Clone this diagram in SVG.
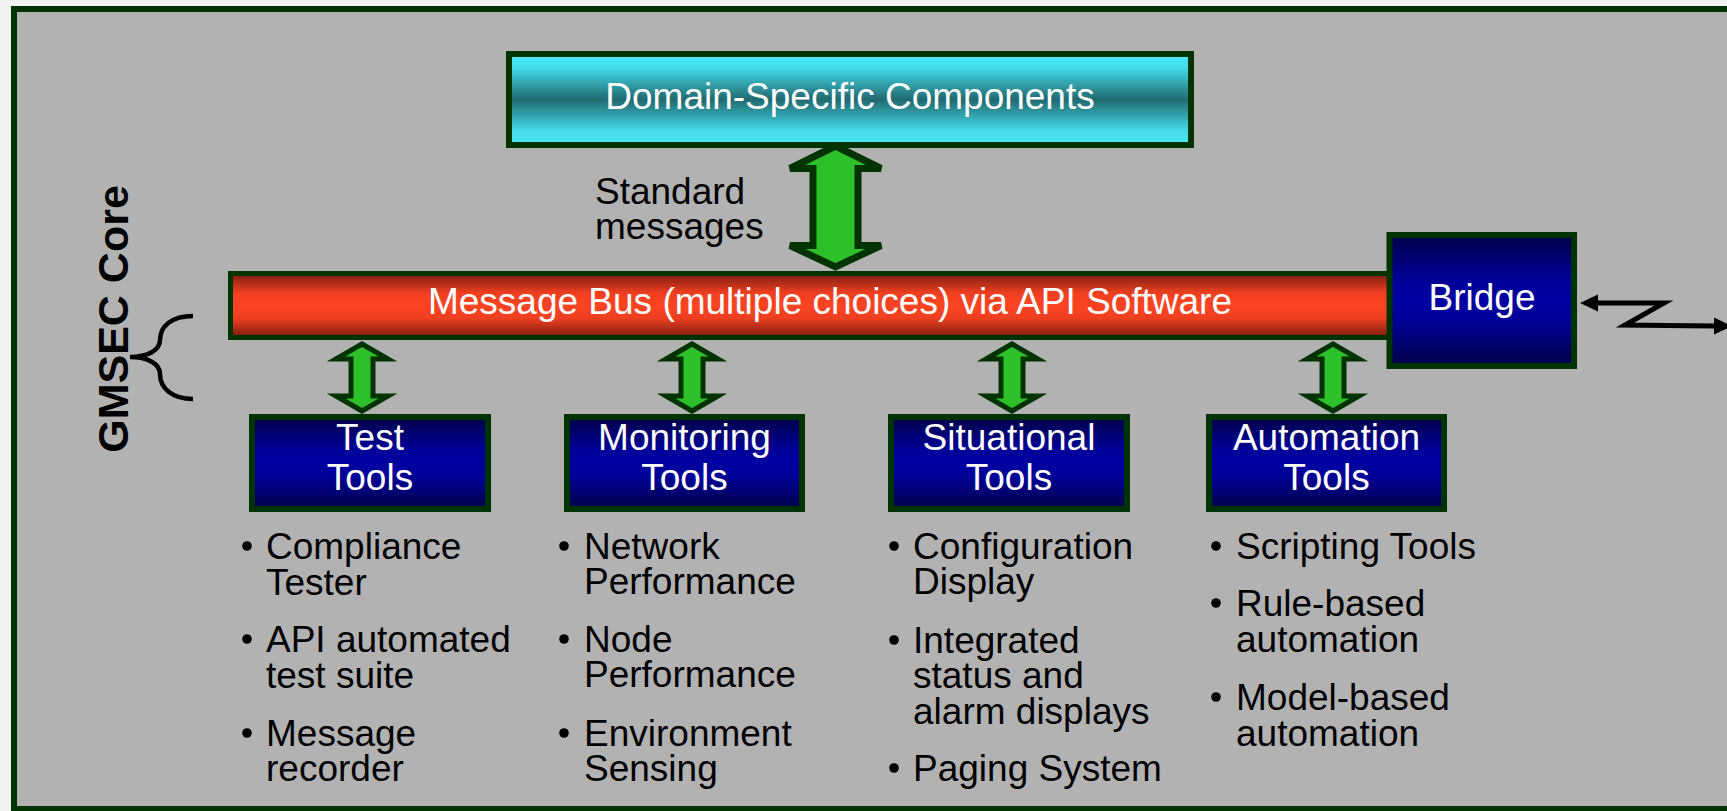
<svg xmlns="http://www.w3.org/2000/svg" width="1727" height="811" viewBox="0 0 1727 811">
<defs>
<linearGradient id="gCyan" x1="0" y1="0" x2="0" y2="1">
<stop offset="0" stop-color="#4ae8f8"/>
<stop offset="0.15" stop-color="#44dcec"/>
<stop offset="0.5" stop-color="#216a70"/>
<stop offset="0.85" stop-color="#44dcec"/>
<stop offset="1" stop-color="#4ae8f8"/>
</linearGradient>
<linearGradient id="gRed" x1="0" y1="0" x2="0" y2="1">
<stop offset="0" stop-color="#781c10"/>
<stop offset="0.3" stop-color="#ee3f20"/>
<stop offset="0.5" stop-color="#fc4423"/>
<stop offset="0.7" stop-color="#ee3f20"/>
<stop offset="1" stop-color="#781c10"/>
</linearGradient>
<linearGradient id="gBlue" x1="0" y1="0" x2="0" y2="1">
<stop offset="0" stop-color="#000048"/>
<stop offset="0.35" stop-color="#000098"/>
<stop offset="0.5" stop-color="#0000a2"/>
<stop offset="0.65" stop-color="#000098"/>
<stop offset="1" stop-color="#000048"/>
</linearGradient>
<marker id="ah" markerUnits="userSpaceOnUse" markerWidth="20" markerHeight="20" viewBox="0 0 20 20" refX="0" refY="10" orient="auto-start-reverse">
<path d="M0,1.5 L18,10 L0,18.5 Z" fill="#000"/>
</marker>
</defs>
<style>
.box{stroke:#003300;stroke-width:6}
.wt{font-family:"Liberation Sans",Arial,sans-serif;font-size:37px;fill:#fff;text-anchor:middle}
.bt{font-family:"Liberation Sans",Arial,sans-serif;font-size:37px;fill:#000}
.arr{fill:#2ec02a;stroke:#003300;stroke-linejoin:miter}
.dot{fill:#000}
</style>
<rect x="0" y="0" width="1727" height="811" fill="#f2f2f2"/>
<rect id="frame" x="14" y="9" width="1800" height="800" fill="#b2b2b2" stroke="#003300" stroke-width="6"/>

<g id="gmsec-core">
<text transform="translate(128,319) rotate(-90)" x="0" y="0" font-family="'Liberation Sans',Arial,sans-serif" font-size="43" font-weight="bold" fill="#000" text-anchor="middle">GMSEC Core</text>
<path d="M193,316 C172,316 160,326 160,340 C160,350 148,357 130,357 C148,357 160,364 160,374 C160,388 172,399 193,399" fill="none" stroke="#000" stroke-width="4.5"/>
</g>

<g id="domain">
<rect class="box" x="509" y="54" width="682" height="91" fill="url(#gCyan)"/>
<text class="wt" x="850" y="109">Domain-Specific Components</text>
</g>

<g id="bus">
<rect x="230.5" y="273.5" width="1170" height="64" fill="url(#gRed)" stroke="#003300" stroke-width="5"/>
<text class="wt" x="830" y="314">Message Bus (multiple choices) via API Software</text>
</g>

<g id="bridge">
<rect class="box" x="1389.5" y="235" width="184.5" height="131" fill="url(#gBlue)"/>
<text class="wt" x="1482" y="310">Bridge</text>
</g>

<g id="test-tools">
<rect class="box" x="252" y="417" width="236" height="92" fill="url(#gBlue)"/>
<text class="wt" x="370" y="450">Test</text>
<text class="wt" x="370" y="490">Tools</text>
</g>

<g id="monitoring-tools">
<rect class="box" x="567" y="417" width="235" height="92" fill="url(#gBlue)"/>
<text class="wt" x="684.5" y="450">Monitoring</text>
<text class="wt" x="684.5" y="490">Tools</text>
</g>

<g id="situational-tools">
<rect class="box" x="891" y="417" width="236" height="92" fill="url(#gBlue)"/>
<text class="wt" x="1009" y="450">Situational</text>
<text class="wt" x="1009" y="490">Tools</text>
</g>

<g id="automation-tools">
<rect class="box" x="1209" y="417" width="235" height="92" fill="url(#gBlue)"/>
<text class="wt" x="1326.5" y="450">Automation</text>
<text class="wt" x="1326.5" y="490">Tools</text>
</g>

<g id="connectors">
<path class="arr" stroke-width="7" d="M835.5,146 L881,168.5 L858,168.5 L858,245.5 L881,245.5 L835.5,267 L790,245.5 L813,245.5 L813,168.5 L790,168.5 Z"/>
<path class="arr" stroke-width="5" d="M362,344 L388,359 L373,359 L373,396 L388,396 L362,411 L336,396 L351,396 L351,359 L336,359 Z"/>
<path class="arr" stroke-width="5" d="M692,344 L718,359 L703,359 L703,396 L718,396 L692,411 L666,396 L681,396 L681,359 L666,359 Z"/>
<path class="arr" stroke-width="5" d="M1012,344 L1038,359 L1023,359 L1023,396 L1038,396 L1012,411 L986,396 L1001,396 L1001,359 L986,359 Z"/>
<path class="arr" stroke-width="5" d="M1333,344 L1359,359 L1344,359 L1344,396 L1359,396 L1333,411 L1307,396 L1322,396 L1322,359 L1307,359 Z"/>
<path d="M1598,303 L1664,303 L1625,325 L1714,326" fill="none" stroke="#000" stroke-width="5" stroke-linejoin="miter" marker-start="url(#ah)" marker-end="url(#ah)"/>
</g>

<g id="standard-messages">
<text class="bt" x="595" y="204">Standard</text>
<text class="bt" x="595" y="239">messages</text>
</g>

<g id="test-list">
<circle class="dot" cx="247" cy="546" r="4.8"/>
<circle class="dot" cx="247" cy="639" r="4.8"/>
<circle class="dot" cx="247" cy="733" r="4.8"/>
<text class="bt"><tspan x="266" y="559">Compliance</tspan><tspan x="266" y="595">Tester</tspan><tspan x="266" y="652">API automated</tspan><tspan x="266" y="688">test suite</tspan><tspan x="266" y="746">Message</tspan><tspan x="266" y="781">recorder</tspan></text>
</g>

<g id="monitoring-list">
<circle class="dot" cx="564" cy="546" r="4.8"/>
<circle class="dot" cx="564" cy="639" r="4.8"/>
<circle class="dot" cx="564" cy="733" r="4.8"/>
<text class="bt"><tspan x="584" y="559">Network</tspan><tspan x="584" y="594">Performance</tspan><tspan x="584" y="652">Node</tspan><tspan x="584" y="687">Performance</tspan><tspan x="584" y="746">Environment</tspan><tspan x="584" y="781">Sensing</tspan></text>
</g>

<g id="situational-list">
<circle class="dot" cx="894" cy="546" r="4.8"/>
<circle class="dot" cx="894" cy="640" r="4.8"/>
<circle class="dot" cx="894" cy="768" r="4.8"/>
<text class="bt"><tspan x="913" y="559">Configuration</tspan><tspan x="913" y="594">Display</tspan><tspan x="913" y="653">Integrated</tspan><tspan x="913" y="688">status and</tspan><tspan x="913" y="724">alarm displays</tspan><tspan x="913" y="781">Paging System</tspan></text>
</g>

<g id="automation-list">
<circle class="dot" cx="1216" cy="546" r="4.8"/>
<circle class="dot" cx="1216" cy="603" r="4.8"/>
<circle class="dot" cx="1216" cy="697" r="4.8"/>
<text class="bt"><tspan x="1236" y="559">Scripting Tools</tspan><tspan x="1236" y="616">Rule-based</tspan><tspan x="1236" y="652">automation</tspan><tspan x="1236" y="710">Model-based</tspan><tspan x="1236" y="746">automation</tspan></text>
</g>
</svg>
